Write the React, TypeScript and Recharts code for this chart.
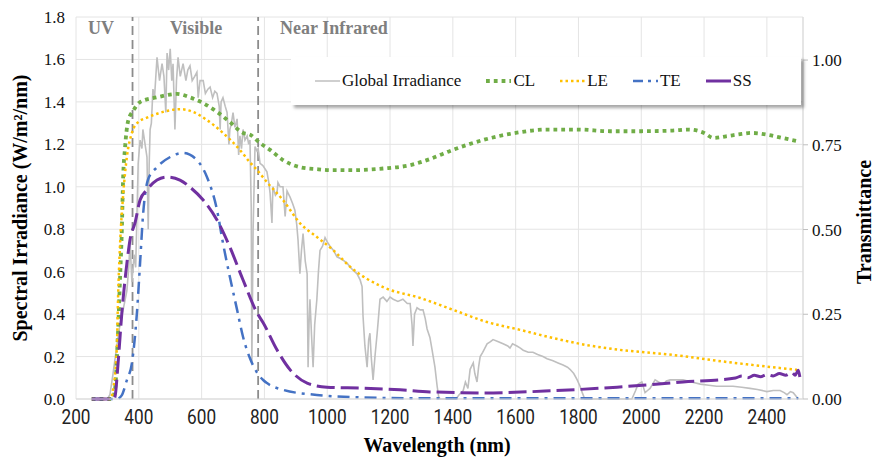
import React from "react";
import {
  LineChart,
  Line,
  XAxis,
  YAxis,
  CartesianGrid,
  ReferenceLine,
} from "recharts";

// ── Data ──────────────────────────────────────────────────────────

const X_TICKS = [200, 400, 600, 800, 1000, 1200, 1400, 1600, 1800, 2000, 2200, 2400];
const LEFT_TICKS = [0, 0.2, 0.4, 0.6, 0.8, 1.0, 1.2, 1.4, 1.6, 1.8];
const RIGHT_TICKS = [0, 0.25, 0.5, 0.75, 1.0];

// AM1.5 global irradiance (W/m²/nm)
const IRR_NM = [
  280, 300, 308, 318, 330, 340, 350, 362, 368, 372, 378, 385, 390, 394, 398, 404, 410, 413, 420, 426,
  430, 433, 436, 440, 445, 450, 458, 466, 474, 480, 486, 490, 495, 500, 505, 509, 515, 520, 525, 532,
  541, 550, 556, 563, 570, 578, 585, 589, 595, 605, 612, 620, 627, 635, 642, 649, 656, 659, 662, 668,
  675, 681, 687, 690, 695, 700, 706, 713, 718, 722, 727, 732, 738, 745, 750, 754, 758, 760, 764, 770,
  776, 780, 786, 795, 808, 814, 818, 824, 827, 835, 840, 843, 850, 859, 866, 872, 882, 890, 897, 903,
  907, 913, 918, 923, 930, 936, 939, 942, 945, 950, 955, 960, 967, 972, 977, 985, 993, 1000, 1009, 1020,
  1031, 1045, 1063, 1080, 1095, 1105, 1111, 1114, 1120, 1127, 1132, 1136, 1140, 1146, 1152, 1159, 1163, 1168, 1178, 1190,
  1200, 1210, 1225, 1241, 1255, 1264, 1270, 1273, 1278, 1286, 1296, 1305, 1312, 1318, 1327, 1334, 1343, 1350, 1355, 1360,
  1410, 1420, 1433, 1440, 1448, 1455, 1465, 1470, 1477, 1482, 1487, 1495, 1509, 1520, 1528, 1545, 1560, 1575, 1582, 1590,
  1604, 1615, 1624, 1640, 1655, 1670, 1687, 1700, 1719, 1735, 1751, 1765, 1773, 1785, 1796, 1805, 1812, 1820, 1970, 1982,
  1990, 2002, 2008, 2012, 2020, 2028, 2036, 2044, 2055, 2070, 2080, 2092, 2110, 2133, 2160, 2188, 2215, 2240, 2265, 2292,
  2320, 2346, 2370, 2400, 2420, 2442, 2455, 2464, 2475, 2484, 2495, 2500,
];
const IRR_VAL = [
  0, 0, 0.02, 0.12, 0.25, 0.35, 0.42, 0.51, 0.62, 0.74, 0.55, 0.68, 0.62, 0.86, 1.11, 1.22, 1.18, 1.27, 1.2, 1.14,
  0.8, 1.1, 1.27, 1.3, 1.46, 1.42, 1.61, 1.5, 1.58, 1.52, 1.35, 1.63, 1.55, 1.65, 1.5, 1.58, 1.27, 1.5, 1.61, 1.52,
  1.58, 1.5, 1.55, 1.57, 1.5, 1.52, 1.54, 1.42, 1.5, 1.5, 1.44, 1.46, 1.47, 1.42, 1.45, 1.44, 1.38, 1.27, 1.4, 1.42,
  1.38, 1.35, 1.2, 1.27, 1.3, 1.35, 1.28, 1.32, 1.15, 1.24, 1.18, 1.27, 1.22, 1.24, 1.2, 1.22, 0.9, 0.17, 0.8, 1.19,
  1.17, 1.18, 1.11, 1.1, 1.07, 1.02, 0.97, 0.83, 1.0, 0.96, 0.97, 1.02, 1.0, 1.0, 0.86, 0.98, 0.95, 0.92, 0.89, 0.82,
  0.75, 0.59, 0.7, 0.78, 0.65, 0.59, 0.15, 0.35, 0.47, 0.3, 0.15, 0.35, 0.47, 0.6, 0.7, 0.72, 0.76, 0.74, 0.72, 0.7,
  0.67, 0.66, 0.64, 0.61, 0.59, 0.56, 0.53, 0.39, 0.25, 0.15, 0.28, 0.31, 0.2, 0.09, 0.2, 0.31, 0.38, 0.47, 0.48, 0.46,
  0.48, 0.47, 0.46, 0.47, 0.45, 0.45, 0.35, 0.25, 0.4, 0.43, 0.42, 0.42, 0.38, 0.33, 0.29, 0.23, 0.15, 0.06, 0.01, 0,
  0, 0.02, 0.04, 0.08, 0.05, 0.14, 0.17, 0.12, 0.08, 0.15, 0.2, 0.22, 0.26, 0.27, 0.28, 0.27, 0.26, 0.25, 0.24, 0.26,
  0.25, 0.24, 0.23, 0.22, 0.22, 0.21, 0.2, 0.19, 0.18, 0.17, 0.16, 0.15, 0.14, 0.12, 0.09, 0.06, 0.03, 0, 0, 0.04,
  0.07, 0.08, 0.05, 0.03, 0.04, 0.05, 0.07, 0.09, 0.08, 0.07, 0.085, 0.09, 0.09, 0.09, 0.08, 0.07, 0.065, 0.06, 0.06, 0.06,
  0.055, 0.05, 0.045, 0.035, 0.04, 0.04, 0.03, 0.02, 0.035, 0.03, 0.01, 0,
];

// Transmittance curves (right axis)
const CL_NM = [250, 315, 324, 334, 340, 346, 350, 356, 366, 382, 404, 458, 522, 563, 605, 649, 690, 732, 754, 786, 818, 859, 913, 967, 1018, 1073, 1178, 1264, 1327, 1400, 1500, 1600, 1700, 1800, 1900, 2000, 2100, 2150, 2200, 2230, 2270, 2320, 2350, 2400, 2450, 2500];
const CL_T = [0, 0, 0.027, 0.2, 0.35, 0.5, 0.65, 0.74, 0.82, 0.85, 0.876, 0.89, 0.9, 0.89, 0.873, 0.847, 0.817, 0.785, 0.78, 0.755, 0.735, 0.705, 0.684, 0.678, 0.675, 0.675, 0.68, 0.69, 0.708, 0.735, 0.765, 0.785, 0.795, 0.795, 0.79, 0.79, 0.792, 0.795, 0.785, 0.77, 0.775, 0.782, 0.785, 0.78, 0.77, 0.76];

const LE_NM = [250, 310, 318, 330, 334, 340, 350, 362, 378, 398, 426, 477, 531, 573, 617, 668, 722, 754, 776, 808, 859, 913, 967, 1018, 1073, 1178, 1296, 1401, 1509, 1614, 1719, 1827, 1932, 2082, 2292, 2496];
const LE_T = [0, 0, 0.027, 0.15, 0.3, 0.45, 0.6, 0.714, 0.785, 0.817, 0.83, 0.847, 0.855, 0.847, 0.823, 0.785, 0.735, 0.698, 0.676, 0.64, 0.587, 0.519, 0.478, 0.44, 0.39, 0.33, 0.298, 0.263, 0.227, 0.204, 0.18, 0.159, 0.145, 0.132, 0.107, 0.086];

const TE_NM = [250, 330, 345, 362, 378, 394, 404, 413, 429, 458, 500, 541, 585, 617, 649, 668, 690, 713, 732, 754, 775, 796, 808, 859, 967, 1100, 1300, 2500];
const TE_T = [0, 0, 0.01, 0.056, 0.106, 0.254, 0.4, 0.537, 0.646, 0.684, 0.714, 0.726, 0.705, 0.655, 0.558, 0.46, 0.36, 0.263, 0.183, 0.12, 0.08, 0.056, 0.047, 0.027, 0.012, 0.005, 0.002, 0.002];

const SS_NM = [250, 320, 324, 334, 346, 362, 372, 388, 404, 426, 458, 490, 531, 563, 605, 649, 690, 732, 776, 796, 840, 882, 936, 999, 1105, 1232, 1327, 1496, 1710, 1923, 2133, 2300, 2320, 2340, 2360, 2380, 2400, 2420, 2440, 2460, 2480, 2490, 2500, 2505];
const SS_T = [0, 0, 0.006, 0.106, 0.254, 0.4, 0.47, 0.52, 0.587, 0.617, 0.646, 0.655, 0.646, 0.625, 0.587, 0.528, 0.448, 0.351, 0.255, 0.225, 0.145, 0.086, 0.047, 0.035, 0.032, 0.027, 0.021, 0.018, 0.024, 0.035, 0.05, 0.062, 0.068, 0.063, 0.07, 0.066, 0.072, 0.068, 0.075, 0.07, 0.078, 0.07, 0.085, 0.065];

const zip = (nm: number[], v: number[]) => nm.map((x, i) => ({ nm: x, v: v[i] }));

// ── Styles ─────────────────────────────────────────────────────────

const SERIES = [
  { key: "irr", name: "Global Irradiance", color: "#bfbfbf", width: 1.6, dash: undefined, axis: "left", type: "linear", data: zip(IRR_NM, IRR_VAL) },
  { key: "cl", name: "CL", color: "#70ad47", width: 3.8, dash: "3.8 4", axis: "right", type: "monotone", data: zip(CL_NM, CL_T) },
  { key: "le", name: "LE", color: "#ffc000", width: 2.5, dash: "2.5 3", axis: "right", type: "monotone", data: zip(LE_NM, LE_T) },
  { key: "te", name: "TE", color: "#4472c4", width: 2.5, dash: "12 6 3 6", axis: "right", type: "monotone", data: zip(TE_NM, TE_T) },
  { key: "ss", name: "SS", color: "#7030a0", width: 3, dash: "18 6", axis: "right", type: "monotone", data: zip(SS_NM, SS_T) },
] as const;

const SERIF = "'Liberation Serif', 'Times New Roman', serif";

function XTick({ x, y, payload }: any) {
  return (
    <g transform={`translate(${x},${y})`}>
      <text
        transform="scale(0.86,1)"
        textAnchor="middle"
        y={9}
        dy="0.71em"
        fontFamily="Roboto, sans-serif"
        fontSize={20}
        fill="#222"
      >
        {payload.value}
      </text>
    </g>
  );
}

function LegendBox() {
  return (
    <div
      style={{
        position: "absolute",
        left: 291,
        top: 57,
        width: 510,
        height: 48,
        display: "flex",
        alignItems: "center",
        gap: 25,
        paddingLeft: 24,
        boxSizing: "border-box",
        background: "#fff",
        boxShadow: "3px 3px 3px rgba(0,0,0,0.35)",
        fontFamily: SERIF,
        fontSize: 17,
        color: "#111",
      }}
    >
      {SERIES.map((s) => (
        <div key={s.key} style={{ display: "flex", alignItems: "center" }}>
          <svg width={25} height={10} style={{ marginRight: 2 }}>
            <line
              x1={0}
              x2={25}
              y1={5}
              y2={5}
              stroke={s.color}
              strokeWidth={s.key === "irr" ? 1.5 : s.width}
              strokeDasharray={s.key === "ss" ? undefined : s.key === "te" ? "10 5 3 5" : s.dash}
            />
          </svg>
          <span>{s.name}</span>
        </div>
      ))}
    </div>
  );
}

const regionLabel: React.CSSProperties = {
  position: "absolute",
  top: 18,
  fontFamily: SERIF,
  fontWeight: "bold",
  fontSize: 18,
  color: "#7f7f7f",
  whiteSpace: "nowrap",
};

const axisTitle: React.CSSProperties = {
  position: "absolute",
  fontFamily: SERIF,
  fontWeight: "bold",
  fontSize: 20,
  color: "#000",
  whiteSpace: "nowrap",
};

export default function App() {
  return (
    <div style={{ position: "relative", width: 873, height: 462, background: "#fff" }}>
      <style>{"body{margin:0}"}</style>
      <LineChart width={873} height={462} margin={{ top: 17, right: 0, bottom: 0, left: 0 }}>
        <CartesianGrid xAxisId="x" yAxisId="left" stroke="#e4e4e4" strokeWidth={1} />
        <XAxis
          xAxisId="x"
          dataKey="nm"
          type="number"
          domain={[200, 2515]}
          ticks={X_TICKS}
          allowDataOverflow
          height={63}
          tickSize={0}
          tickLine={false}
          axisLine={{ stroke: "#d9d9d9" }}
          tick={<XTick />}
          interval={0}
        />
        <YAxis
          yAxisId="left"
          orientation="left"
          width={76}
          domain={[0, 1.8]}
          ticks={LEFT_TICKS}
          tickFormatter={(v: number) => v.toFixed(1)}
          tickSize={0}
          tickMargin={11}
          axisLine={false}
          tick={{ fontFamily: SERIF, fontSize: 17, fill: "#111" }}
          interval={0}
        />
        <YAxis
          yAxisId="right"
          orientation="right"
          width={70}
          domain={[0, 1.127]}
          ticks={RIGHT_TICKS}
          tickFormatter={(v: number) => v.toFixed(2)}
          tickSize={5}
          tickMargin={4}
          tickLine={{ stroke: "#bfbfbf" }}
          axisLine={{ stroke: "#d9d9d9" }}
          tick={{ fontFamily: SERIF, fontSize: 17, fill: "#111" }}
          interval={0}
        />
        <ReferenceLine xAxisId="x" yAxisId="left" x={380} stroke="#8c8c8c" strokeWidth={1.8} strokeDasharray="9 5" />
        <ReferenceLine xAxisId="x" yAxisId="left" x={780} stroke="#8c8c8c" strokeWidth={1.8} strokeDasharray="9 5" />
        {SERIES.map((s) => (
          <Line
            key={s.key}
            xAxisId="x"
            yAxisId={s.axis}
            data={s.data as any}
            dataKey="v"
            name={s.name}
            type={s.type}
            stroke={s.color}
            strokeWidth={s.width}
            strokeDasharray={s.dash}
            dot={false}
            activeDot={false}
            isAnimationActive={false}
          />
        ))}
      </LineChart>

      <LegendBox />

      <div style={{ ...regionLabel, left: 88 }}>UV</div>
      <div style={{ ...regionLabel, left: 170 }}>Visible</div>
      <div style={{ ...regionLabel, left: 280 }}>Near Infrared</div>

      <div style={{ ...axisTitle, left: 437, top: 445, transform: "translate(-50%,-50%)" }}>
        Wavelength (nm)
      </div>
      <div
        style={{ ...axisTitle, left: 20, top: 208, transform: "translate(-50%,-50%) rotate(-90deg)" }}
      >
        Spectral Irradiance (W/m²/nm)
      </div>
      <div
        style={{ ...axisTitle, left: 864, top: 222, transform: "translate(-50%,-50%) rotate(-90deg)" }}
      >
        Transmittance
      </div>
    </div>
  );
}
